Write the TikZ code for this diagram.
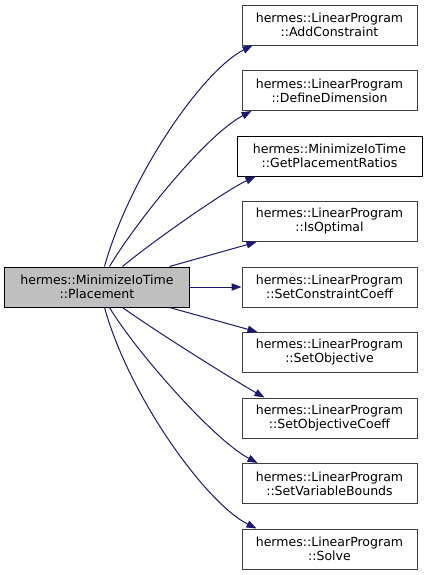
\documentclass[tikz,border=0pt]{standalone}
\usepackage{fontspec}
\setmainfont{DejaVu Sans}
\usetikzlibrary{arrows.meta,calc}
\definecolor{edgeblue}{HTML}{191970}
\definecolor{rootfill}{HTML}{BFBFBF}
\definecolor{nodeline}{HTML}{404040}
\begin{document}
\begin{tikzpicture}[x=0.75pt,y=-0.75pt,
  box/.style={draw=nodeline,fill=white,line width=0.75pt,align=center,inner sep=0pt,
    minimum height=30pt,font=\fontsize{9.4}{10.5}\selectfont},
  lpbox/.style={box,minimum width=131.25pt},
  mitbox/.style={box,minimum width=138.75pt,draw=black},
  rootbox/.style={box,minimum width=138.75pt,draw=black,fill=rootfill},
  edge/.style={draw=edgeblue,line width=0.75pt,-{Triangle[length=7.5pt,width=5.5pt]},
    fill=none},
  every edge/.style={}]
\useasboundingbox (0,0) rectangle (427,575);
\node[rootbox] (L) at (97,287) {hermes::MinimizeIoTime\\::Placement};
\node[lpbox]  (n1) at (329.5,25)   {hermes::LinearProgram\\::AddConstraint};
\node[lpbox]  (n2) at (329.5,90.5) {hermes::LinearProgram\\::DefineDimension};
\node[mitbox] (n3) at (329.5,156)  {hermes::MinimizeIoTime\\::GetPlacementRatios};
\node[lpbox]  (n4) at (329.5,221.5){hermes::LinearProgram\\::IsOptimal};
\node[lpbox]  (n5) at (329.5,287)  {hermes::LinearProgram\\::SetConstraintCoeff};
\node[lpbox]  (n6) at (329.5,352.5){hermes::LinearProgram\\::SetObjective};
\node[lpbox]  (n7) at (329.5,418)  {hermes::LinearProgram\\::SetObjectiveCoeff};
\node[lpbox]  (n8) at (329.5,483.5){hermes::LinearProgram\\::SetVariableBounds};
\node[lpbox]  (n9) at (329.5,549)  {hermes::LinearProgram\\::Solve};
\draw[edge] ($(L.north west)+(100.5,0)$) .. controls +(25,-90) and +(-50,25) .. ($(n1.south west)+(11,0)$);
\draw[edge] ($(L.north west)+(105.5,0)$) .. controls +(25,-42) and +(-47,25) .. ($(n2.south west)+(10,0)$);
\draw[edge] ($(L.north west)+(118.5,0)$) .. controls +(30,-25) and +(-30,14) .. ($(n3.south west)+(19,0)$);
\draw[edge] ($(L.north west)+(165.5,0)$) -- ($(n4.south west)+(15,0)$);
\draw[edge] (L.east) -- (n5.west);
\draw[edge] ($(L.south west)+(165.5,0)$) -- ($(n6.north west)+(16,0)$);
\draw[edge] ($(L.south west)+(118.5,0)$) .. controls +(35,25) and +(-30,-17) .. ($(n7.north west)+(23,0)$);
\draw[edge] ($(L.south west)+(105.5,0)$) .. controls +(25,42) and +(-45,-24) .. ($(n8.north west)+(16,0)$);
\draw[edge] ($(L.south west)+(100.5,0)$) .. controls +(25,90) and +(-50,-25) .. ($(n9.north west)+(15,0)$);
\end{tikzpicture}
\end{document}
